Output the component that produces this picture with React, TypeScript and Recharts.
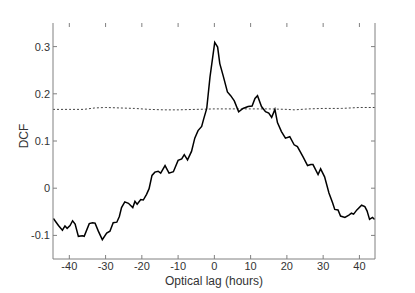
import React from "react";
import { LineChart, Line, XAxis, YAxis } from "recharts";

// DCF curve (lag in hours)
const LAGS = [
  -44.4, -43.0, -41.9, -41.2, -40.6, -39.8, -39.1, -38.4, -37.5, -36.4, -35.9, -34.5, -33.6, -32.9,
  -32.0, -30.9, -29.7, -28.8, -27.9, -26.9, -26.2, -25.6, -24.7, -23.7, -22.5, -21.9, -21.3, -20.3,
  -19.6, -18.7, -18.0, -17.2, -16.4, -15.5, -14.8, -13.6, -12.5, -11.3, -10.0, -9.0, -8.3, -7.4,
  -6.3, -5.4, -4.5, -3.5, -2.9, -2.1, -1.2, 0.1, 0.9, 1.5, 2.4, 3.6, 4.5, 5.5, 6.7, 7.9, 9.3, 10.4,
  11.2, 11.9, 13.0, 14.1, 15.0, 15.8, 16.7, 17.4, 18.5, 19.6, 20.8, 22.0, 22.9, 24.5, 25.7, 26.6,
  27.2, 28.6, 29.3, 30.4, 31.6, 32.6, 33.2, 34.1, 34.8, 36.0, 37.1, 37.8, 38.4, 39.3, 40.6, 41.5,
  42.1, 42.8, 43.6, 44.2,
];
const DCF = [
  -0.064, -0.079, -0.089, -0.08, -0.085, -0.079, -0.069, -0.076, -0.102, -0.101, -0.102, -0.075,
  -0.073, -0.074, -0.091, -0.109, -0.095, -0.091, -0.073, -0.072, -0.06, -0.041, -0.029, -0.032,
  -0.041, -0.028, -0.034, -0.024, -0.025, -0.013, -0.001, 0.027, 0.034, 0.036, 0.032, 0.048, 0.032,
  0.035, 0.059, 0.062, 0.071, 0.06, 0.078, 0.106, 0.122, 0.131, 0.148, 0.169, 0.236, 0.309, 0.299,
  0.264, 0.239, 0.204, 0.196, 0.185, 0.162, 0.169, 0.173, 0.174, 0.19, 0.196, 0.173, 0.162, 0.159,
  0.15, 0.167, 0.139, 0.12, 0.106, 0.109, 0.092, 0.088, 0.066, 0.048, 0.05, 0.05, 0.029, 0.041,
  0.024, -0.01, -0.031, -0.045, -0.046, -0.059, -0.062, -0.057, -0.053, -0.055, -0.046, -0.036,
  -0.039, -0.048, -0.066, -0.062, -0.066,
];

// significance level (dashed)
const SIG_LAGS = [-44.5, -40, -36, -33, -30, -26, -22, -18, -14, -10, -5, 0, 5, 10, 15, 20, 22, 26, 30, 35, 40, 44.5];
const SIG_DCF = [
  0.167, 0.167, 0.167, 0.17, 0.171, 0.17, 0.169, 0.167, 0.166, 0.166, 0.167, 0.168, 0.168, 0.168,
  0.168, 0.167, 0.166, 0.168, 0.169, 0.169, 0.171, 0.171,
];

const X_TICKS = [-40, -30, -20, -10, 0, 10, 20, 30, 40];
const Y_TICKS = [-0.1, 0, 0.1, 0.2, 0.3];

const X_DOMAIN = [-44.5, 44.3];
const Y_DOMAIN = [-0.15, 0.35];

const dcfData = LAGS.map((lag, i) => ({ lag, dcf: DCF[i] }));
const sigData = SIG_LAGS.map((lag, i) => ({ lag, dcf: SIG_DCF[i] }));

const FONT = "'Liberation Sans', Arial, sans-serif";
const AXIS = "#808080";
const TEXT = "#333";

const fmt = (v: number) => (v === 0 ? "0" : String(v));

const YLabel = () => (
  <text
    x={24}
    y={136}
    transform="rotate(-90 24 136)"
    textAnchor="middle"
    dominantBaseline="central"
    fontFamily={FONT}
    fontSize={12}
    fill={TEXT}
  >
    DCF
  </text>
);

const NoLabel = () => <g />;

export default function App() {
  return (
    <div style={{ position: "absolute", left: 0, top: 0, background: "#fff" }}>
      <LineChart
        width={415}
        height={293}
        margin={{ top: 22, right: 39, bottom: 0, left: 0 }}
      >
        <XAxis
          xAxisId="bottom"
          dataKey="lag"
          type="number"
          domain={X_DOMAIN}
          allowDataOverflow
          ticks={X_TICKS}
          interval={0}
          height={34}
          tickSize={-4}
          tickMargin={7}
          stroke={AXIS}
          tick={{ fill: TEXT, fontSize: 11, fontFamily: FONT }}
          label={{
            value: "Optical lag (hours)",
            position: "insideBottom",
            offset: 8,
            fill: TEXT,
            fontSize: 12,
            fontFamily: FONT,
          }}
        />
        <XAxis
          xAxisId="top"
          orientation="top"
          dataKey="lag"
          type="number"
          domain={X_DOMAIN}
          allowDataOverflow
          ticks={X_TICKS}
          interval={0}
          height={1}
          tickSize={-4}
          axisLine={false}
          stroke={AXIS}
          tick={<NoLabel />}
        />
        <YAxis
          yAxisId="left"
          type="number"
          domain={Y_DOMAIN}
          allowDataOverflow
          ticks={Y_TICKS}
          interval={0}
          width={53}
          tickSize={-4}
          tickMargin={7}
          tickFormatter={fmt}
          stroke={AXIS}
          tick={{ fill: TEXT, fontSize: 11, fontFamily: FONT }}
          label={<YLabel />}
        />
        <YAxis
          yAxisId="right"
          orientation="right"
          type="number"
          domain={Y_DOMAIN}
          allowDataOverflow
          ticks={Y_TICKS}
          interval={0}
          width={1}
          tickSize={-4}
          stroke={AXIS}
          tick={<NoLabel />}
        />
        <Line
          data={sigData}
          xAxisId="top"
          yAxisId="right"
          dataKey="dcf"
          stroke="#444"
          strokeWidth={1}
          strokeDasharray="2 2"
          dot={false}
          isAnimationActive={false}
        />
        <Line
          data={dcfData}
          xAxisId="bottom"
          yAxisId="left"
          dataKey="dcf"
          stroke="#000"
          strokeWidth={1.5}
          dot={false}
          isAnimationActive={false}
        />
      </LineChart>
    </div>
  );
}
